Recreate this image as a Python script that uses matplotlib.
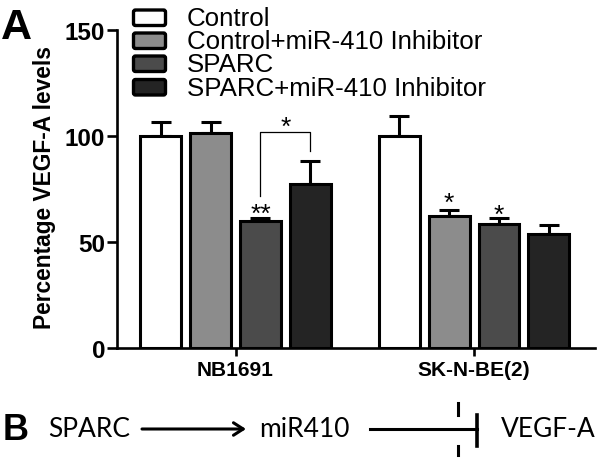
import matplotlib
matplotlib.use("Agg")
import matplotlib.pyplot as plt
from matplotlib.patches import FancyBboxPatch

# ---- data ----
groups = ["NB1691", "SK-N-BE(2)"]
series = ["Control", "Control+miR-410 Inhibitor", "SPARC", "SPARC+miR-410 Inhibitor"]
means = {
    "Control": [100.0, 100.0],
    "Control+miR-410 Inhibitor": [101.4, 62.3],
    "SPARC": [59.9, 58.5],
    "SPARC+miR-410 Inhibitor": [77.4, 53.8],
}
errs = {
    "Control": [6.6, 9.4],
    "Control+miR-410 Inhibitor": [5.2, 2.8],
    "SPARC": [1.2, 2.8],
    "SPARC+miR-410 Inhibitor": [10.8, 4.3],
}
colors = ["#ffffff", "#8c8c8c", "#4b4b4b", "#242424"]
yticks = [0, 50, 100, 150]

W, H = 602, 464
fig = plt.figure(figsize=(W / 100, H / 100), dpi=100)
FONT = ["Liberation Sans", "DejaVu Sans"]

def px(x, y):
    return x / W, 1 - y / H

ax_l, ax_r, ax_b, ax_t = 117, 595, 349, 31
ax = fig.add_axes([ax_l / W, 1 - ax_b / H, (ax_r - ax_l) / W, (ax_b - ax_t) / H])

gsep = 4.78
group_x = [0.0, gsep]
bw = 0.82
lw = 2.2
for i, s in enumerate(series):
    xs = [g + (i - 1.5) for g in group_x]
    ax.bar(xs, means[s], width=bw, color=colors[i], edgecolor="black",
           linewidth=lw, zorder=3, label=s)
    ax.errorbar(xs, means[s], yerr=[[0, 0], errs[s]], fmt="none",
                ecolor="black", elinewidth=lw, capsize=7, capthick=lw, zorder=2)

ax.set_xlim(-2.375, -2.375 + (ax_r - ax_l) / 49.9)
ax.set_ylim(0, 150)
ax.set_yticks(yticks)
ax.set_yticklabels([str(t) for t in yticks], fontsize=17.5, fontweight="bold", family=FONT)
ax.set_xticks(group_x)
ax.set_xticklabels(groups, fontsize=15, fontweight="bold", family=FONT)
for sp in ["top", "right"]:
    ax.spines[sp].set_visible(False)
for sp in ["left", "bottom"]:
    ax.spines[sp].set_linewidth(1.9)
ax.tick_params(axis="y", direction="out", length=7.5, width=1.9, pad=1)
ax.tick_params(axis="x", direction="out", length=5.5, width=1.9, pad=3)
ax.patch.set_alpha(0)

# significance bracket and stars
ax.plot([0.5, 0.5, 1.5, 1.5], [71.7, 101.9, 101.9, 92.9], color="black", lw=0.9, zorder=4)
star_kw = dict(ha="center", va="center", fontsize=19, family=FONT, zorder=5)
ax.text(1.0, 104.5, "*", **star_kw)
ax.text(0.5, 63.5, "**", **star_kw)
ax.text(gsep - 0.5, 68.5, "*", **star_kw)
ax.text(gsep + 0.5, 63.0, "*", **star_kw)

# y label
fig.text(*px(45, 188), "Percentage VEGF-A levels", rotation=90, ha="center", va="center",
         fontsize=16.4, fontweight="bold", family=FONT)

# legend drawn manually
leg_ax = fig.add_axes([0, 0, 1, 1])
leg_ax.set_xlim(0, W)
leg_ax.set_ylim(H, 0)
leg_ax.axis("off")
rows_y = [18.5, 41.5, 64.5, 88]
for i, s in enumerate(series):
    yc = rows_y[i]
    leg_ax.add_patch(FancyBboxPatch((133.5, yc - 7.5), 32, 15.5,
                                    boxstyle="round,pad=0,rounding_size=2",
                                    facecolor=colors[i], edgecolor="black", linewidth=2.4))
    leg_ax.text(187, yc + 0.5, s, ha="left", va="center", fontsize=18.6, family=FONT)

# panel letters
leg_ax.text(1, 28, "A", ha="left", va="center", fontsize=31, fontweight="bold", family=FONT)
leg_ax.text(3, 431, "B", ha="left", va="center", fontsize=26, fontweight="bold", family=FONT)

# panel B diagram
BFONT = ["Lato", "DejaVu Sans"]
yb = 430
leg_ax.text(48, yb, "SPARC", ha="left", va="center", fontsize=19, family=BFONT)
leg_ax.annotate("", xy=(246, yb), xytext=(142, yb),
                arrowprops=dict(arrowstyle="->,head_length=0.7,head_width=0.45",
                                lw=2.2, color="black", shrinkA=0, shrinkB=0))
leg_ax.text(259, yb, "miR410", ha="left", va="center", fontsize=19, family=BFONT)
leg_ax.plot([370, 477], [yb, yb], color="black", lw=2.2)
leg_ax.plot([477, 477], [416, 447], color="black", lw=2.6)
leg_ax.plot([458, 458], [404, 416], color="black", lw=2.2)
leg_ax.plot([458, 458], [447, 456], color="black", lw=2.2)
leg_ax.text(501, yb, "VEGF-A", ha="left", va="center", fontsize=19, family=BFONT)

fig.savefig("out.png", dpi=100)
